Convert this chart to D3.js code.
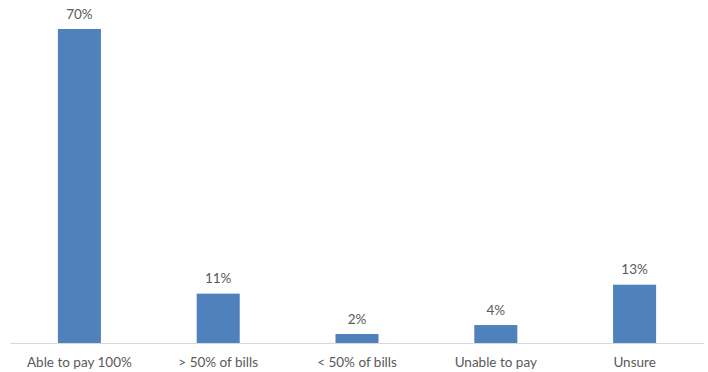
<!DOCTYPE html>
<html><head><meta charset="utf-8">
<script src="https://cdn.jsdelivr.net/npm/d3@7"></script>
<style>body{margin:0;background:#fff;}svg{display:block;}</style>
</head><body>
<svg id="c" width="708" height="372"></svg>
<script>
const categories = ["Able to pay 100%", "> 50% of bills", "< 50% of bills", "Unable to pay", "Unsure"];
const values = [70, 11, 2, 4, 13];
const valueLabels = ["70%", "11%", "2%", "4%", "13%"];

const svg = d3.select("#c");
const x = d3.scaleBand().domain(categories).range([10, 704]).paddingInner(0.69).paddingOuter(0.345);
const y = d3.scaleLinear().domain([0, 70]).range([343, 29]);
const font = "Lato, 'Open Sans', sans-serif";

svg.selectAll("rect.bar").data(values).join("rect")
  .attr("class", "bar")
  .attr("x", (d, i) => x(categories[i]))
  .attr("width", x.bandwidth())
  .attr("y", d => y(d))
  .attr("height", d => y(0) - y(d))
  .attr("fill", "#4f81bd");

svg.append("line").attr("x1", 10).attr("x2", 704).attr("y1", y(0) + 0.5).attr("y2", y(0) + 0.5)
  .attr("stroke", "#d9d9d9").attr("stroke-width", 1);

svg.selectAll("text.val").data(values).join("text")
  .attr("class", "val")
  .attr("x", (d, i) => x(categories[i]) + x.bandwidth() / 2)
  .attr("y", d => y(d) - 10.5)
  .attr("text-anchor", "middle")
  .attr("font-family", font).attr("font-size", 13.5)
  .attr("fill", "#595959")
  .text((d, i) => valueLabels[i]);

svg.selectAll("text.cat").data(categories).join("text")
  .attr("class", "cat")
  .attr("x", d => x(d) + x.bandwidth() / 2)
  .attr("y", 367)
  .attr("text-anchor", "middle")
  .attr("font-family", font).attr("font-size", 13.5)
  .attr("fill", "#595959")
  .text(d => d);
</script>
</body></html>
